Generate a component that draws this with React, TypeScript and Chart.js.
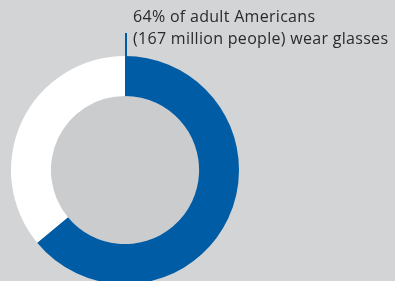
import React, { useEffect, useRef } from "react";
import { Chart, registerables } from "chart.js";

Chart.register(...registerables);

const labels = ["Wear glasses", "Do not wear glasses"];
const shares = [64, 36];
const colors = ["#005ca5", "#ffffff"];
const captionLines = ["64% of adult Americans", "(167 million people) wear glasses"];

const BG = "#d3d4d5";
const INNER = "#cbcccd";

const innerFill = {
  id: "innerFill",
  beforeDatasetsDraw(chart: any) {
    const meta = chart.getDatasetMeta(0);
    const arc = meta.data[0];
    if (!arc) return;
    const { x, y, innerRadius } = arc.getProps(["x", "y", "innerRadius"], true);
    const ctx = chart.ctx;
    ctx.save();
    ctx.fillStyle = INNER;
    ctx.beginPath();
    ctx.arc(x, y, innerRadius, 0, Math.PI * 2);
    ctx.fill();
    ctx.restore();
  },
};

export default function App() {
  const ref = useRef<HTMLCanvasElement>(null);
  useEffect(() => {
    if (!ref.current) return;
    const chart = new Chart(ref.current, {
      type: "doughnut",
      data: {
        labels,
        datasets: [
          {
            data: shares,
            backgroundColor: colors,
            borderWidth: 0,
          },
        ],
      },
      options: {
        animation: false,
        responsive: false,
        maintainAspectRatio: false,
        cutout: "65%",
        layout: { padding: { left: 11, right: 156, top: 56, bottom: 16 } },
        plugins: { legend: { display: false }, tooltip: { enabled: false } },
      },
      plugins: [innerFill],
    });
    return () => chart.destroy();
  }, []);
  return (
    <div
      style={{
        position: "fixed",
        left: 0,
        top: 0,
        width: 395,
        height: 281,
        overflow: "hidden",
        background: BG,
      }}
    >
      <canvas ref={ref} width={395} height={300} style={{ position: "absolute", left: 0, top: 0 }} />
      <div
        style={{
          position: "absolute",
          left: 125,
          top: 33,
          width: 2,
          height: 23,
          background: "#005ca5",
        }}
      />
      <div
        style={{
          position: "absolute",
          left: 133,
          top: 5,
          fontFamily: "'Open Sans', sans-serif",
          fontSize: 16,
          letterSpacing: 0.3,
          lineHeight: "22px",
          color: "#2a2a2a",
          whiteSpace: "nowrap",
        }}
      >
        {captionLines.map((l, i) => (
          <div key={i}>{l}</div>
        ))}
      </div>
    </div>
  );
}
